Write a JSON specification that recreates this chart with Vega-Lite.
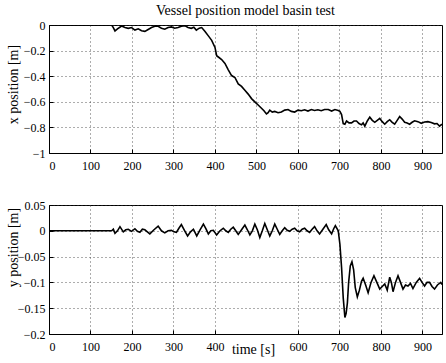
{
  "$schema": "https://vega.github.io/schema/vega-lite/v6.json",
  "padding": {"left": 5, "top": 3, "right": 0, "bottom": 0},
  "background": "white",
  "config": {
    "font": "Liberation Serif",
    "view": {"stroke": "black", "strokeWidth": 1},
    "axis": {
      "labelFont": "Liberation Serif", "labelFontSize": 12, "labelColor": "black", "format": "~r",
      "titleFont": "Liberation Serif", "titleFontSize": 14, "titleFontWeight": "normal", "titleColor": "black",
      "domainColor": "black", "tickColor": "black", "tickSize": -4, "labelPadding": 11,
      "gridColor": "#333", "gridDash": [1, 3], "gridWidth": 1, "gridOpacity": 0.8
    },
    "title": {"font": "Liberation Serif", "fontSize": 14, "fontWeight": "normal", "color": "black"}
  },
  "vconcat": [
    {
      "width": 393, "height": 128,
      "title": {"text": "Vessel position model basin test", "offset": 1},
      "data": {"values": [
        {"t": 0, "v": 0}, {"t": 151, "v": 0}, {"t": 155, "v": -0.02}, {"t": 159, "v": -0.046}, {"t": 165, "v": -0.03},
        {"t": 175, "v": -0.008}, {"t": 183, "v": -0.02}, {"t": 191, "v": -0.026}, {"t": 199, "v": -0.02}, {"t": 207, "v": -0.04},
        {"t": 215, "v": -0.03}, {"t": 223, "v": -0.045}, {"t": 231, "v": -0.05}, {"t": 239, "v": -0.035}, {"t": 247, "v": -0.02},
        {"t": 255, "v": -0.01}, {"t": 263, "v": -0.01}, {"t": 271, "v": -0.025}, {"t": 279, "v": -0.033}, {"t": 287, "v": -0.02},
        {"t": 295, "v": -0.015}, {"t": 303, "v": -0.025}, {"t": 311, "v": -0.02}, {"t": 319, "v": -0.01}, {"t": 327, "v": -0.005},
        {"t": 335, "v": -0.02}, {"t": 343, "v": -0.026}, {"t": 349, "v": -0.018}, {"t": 355, "v": -0.04}, {"t": 362, "v": -0.025},
        {"t": 368, "v": -0.02}, {"t": 376, "v": -0.05}, {"t": 384, "v": -0.085}, {"t": 392, "v": -0.12}, {"t": 400, "v": -0.175},
        {"t": 404, "v": -0.24}, {"t": 408, "v": -0.25}, {"t": 416, "v": -0.27}, {"t": 424, "v": -0.3}, {"t": 432, "v": -0.35},
        {"t": 440, "v": -0.395}, {"t": 448, "v": -0.41}, {"t": 456, "v": -0.46}, {"t": 464, "v": -0.48}, {"t": 472, "v": -0.51},
        {"t": 480, "v": -0.54}, {"t": 488, "v": -0.575}, {"t": 496, "v": -0.6}, {"t": 504, "v": -0.625}, {"t": 512, "v": -0.65},
        {"t": 518, "v": -0.67}, {"t": 524, "v": -0.695}, {"t": 528, "v": -0.685}, {"t": 532, "v": -0.665}, {"t": 538, "v": -0.68},
        {"t": 544, "v": -0.675}, {"t": 552, "v": -0.685}, {"t": 560, "v": -0.68}, {"t": 568, "v": -0.665}, {"t": 576, "v": -0.66},
        {"t": 584, "v": -0.675}, {"t": 592, "v": -0.68}, {"t": 600, "v": -0.665}, {"t": 608, "v": -0.67}, {"t": 616, "v": -0.662},
        {"t": 624, "v": -0.672}, {"t": 632, "v": -0.66}, {"t": 640, "v": -0.668}, {"t": 648, "v": -0.662}, {"t": 656, "v": -0.67},
        {"t": 664, "v": -0.66}, {"t": 673, "v": -0.66}, {"t": 681, "v": -0.672}, {"t": 689, "v": -0.66}, {"t": 697, "v": -0.668},
        {"t": 701, "v": -0.675}, {"t": 705, "v": -0.7}, {"t": 709, "v": -0.77}, {"t": 713, "v": -0.775}, {"t": 717, "v": -0.75},
        {"t": 723, "v": -0.765}, {"t": 729, "v": -0.765}, {"t": 735, "v": -0.75}, {"t": 741, "v": -0.75}, {"t": 747, "v": -0.77},
        {"t": 753, "v": -0.78}, {"t": 757, "v": -0.765}, {"t": 761, "v": -0.79}, {"t": 767, "v": -0.75}, {"t": 773, "v": -0.72},
        {"t": 779, "v": -0.745}, {"t": 785, "v": -0.76}, {"t": 791, "v": -0.745}, {"t": 797, "v": -0.73}, {"t": 803, "v": -0.755},
        {"t": 809, "v": -0.775}, {"t": 815, "v": -0.755}, {"t": 821, "v": -0.74}, {"t": 827, "v": -0.76}, {"t": 833, "v": -0.775},
        {"t": 839, "v": -0.745}, {"t": 845, "v": -0.715}, {"t": 851, "v": -0.735}, {"t": 857, "v": -0.76}, {"t": 863, "v": -0.765},
        {"t": 869, "v": -0.775}, {"t": 875, "v": -0.76}, {"t": 881, "v": -0.748}, {"t": 889, "v": -0.755}, {"t": 897, "v": -0.768},
        {"t": 905, "v": -0.758}, {"t": 913, "v": -0.755}, {"t": 921, "v": -0.762}, {"t": 929, "v": -0.772}, {"t": 935, "v": -0.77},
        {"t": 941, "v": -0.79}, {"t": 947, "v": -0.775}
      ]},
      "mark": {"type": "line", "color": "black", "strokeWidth": 1.6, "clip": true, "interpolate": "linear"},
      "encoding": {
        "x": {"field": "t", "type": "quantitative", "scale": {"domain": [0, 947], "nice": false, "zero": false},
              "axis": {"title": null, "values": [0, 100, 200, 300, 400, 500, 600, 700, 800, 900]}},
        "y": {"field": "v", "type": "quantitative", "scale": {"domain": [-1, 0], "nice": false},
              "axis": {"title": "x position [m]", "values": [-1, -0.8, -0.6, -0.4, -0.2, 0], "labelPadding": 8,
                       "titleX": -32, "titleY": 59, "titleBaseline": "alphabetic", "titleAngle": -90}}
      }
    },
    {
      "width": 393, "height": 129,
      "data": {"values": [
        {"t": 0, "v": 0}, {"t": 151, "v": 0.0}, {"t": 155, "v": 0.003}, {"t": 159, "v": -0.005}, {"t": 165, "v": 0.0},
        {"t": 171, "v": 0.008}, {"t": 179, "v": -0.002}, {"t": 185, "v": 0.002}, {"t": 191, "v": 0.003}, {"t": 199, "v": -0.001},
        {"t": 207, "v": 0.004}, {"t": 213, "v": -0.001}, {"t": 219, "v": -0.003}, {"t": 225, "v": 0.003}, {"t": 231, "v": 0.002},
        {"t": 237, "v": -0.002}, {"t": 243, "v": -0.006}, {"t": 253, "v": 0.002}, {"t": 263, "v": 0.009}, {"t": 271, "v": 0.0},
        {"t": 279, "v": -0.004}, {"t": 287, "v": 0.0}, {"t": 295, "v": 0.001}, {"t": 301, "v": -0.002}, {"t": 307, "v": -0.003},
        {"t": 313, "v": 0.005}, {"t": 319, "v": 0.012}, {"t": 327, "v": 0.0}, {"t": 334, "v": -0.01}, {"t": 341, "v": -0.002},
        {"t": 348, "v": 0.003}, {"t": 356, "v": -0.01}, {"t": 364, "v": 0.002}, {"t": 372, "v": 0.013}, {"t": 378, "v": 0.004},
        {"t": 384, "v": -0.006}, {"t": 390, "v": 0.0}, {"t": 396, "v": 0.001}, {"t": 404, "v": -0.008}, {"t": 412, "v": 0.0},
        {"t": 420, "v": 0.005}, {"t": 426, "v": 0.0}, {"t": 432, "v": -0.003}, {"t": 438, "v": 0.003}, {"t": 444, "v": 0.007},
        {"t": 450, "v": 0.0}, {"t": 456, "v": -0.007}, {"t": 464, "v": 0.002}, {"t": 472, "v": 0.011}, {"t": 478, "v": 0.002},
        {"t": 484, "v": -0.008}, {"t": 490, "v": 0.0}, {"t": 496, "v": 0.013}, {"t": 502, "v": 0.002}, {"t": 508, "v": -0.013},
        {"t": 514, "v": 0.0}, {"t": 520, "v": 0.014}, {"t": 526, "v": 0.002}, {"t": 532, "v": -0.01}, {"t": 538, "v": 0.0},
        {"t": 544, "v": 0.013}, {"t": 550, "v": 0.003}, {"t": 556, "v": -0.007}, {"t": 562, "v": 0.0}, {"t": 568, "v": 0.006},
        {"t": 574, "v": 0.001}, {"t": 580, "v": -0.001}, {"t": 586, "v": 0.003}, {"t": 592, "v": 0.005}, {"t": 598, "v": 0.0},
        {"t": 604, "v": -0.002}, {"t": 610, "v": 0.003}, {"t": 616, "v": 0.005}, {"t": 622, "v": 0.0}, {"t": 628, "v": -0.003},
        {"t": 634, "v": 0.003}, {"t": 640, "v": 0.008}, {"t": 646, "v": 0.0}, {"t": 652, "v": -0.006}, {"t": 660, "v": 0.003},
        {"t": 668, "v": 0.012}, {"t": 674, "v": 0.002}, {"t": 681, "v": -0.006}, {"t": 686, "v": 0.004}, {"t": 690, "v": 0.010},
        {"t": 697, "v": 0.0}, {"t": 701, "v": -0.026}, {"t": 705, "v": -0.071}, {"t": 709, "v": -0.13}, {"t": 713, "v": -0.168},
        {"t": 716, "v": -0.16}, {"t": 719, "v": -0.14}, {"t": 722, "v": -0.1}, {"t": 726, "v": -0.068}, {"t": 730, "v": -0.06},
        {"t": 734, "v": -0.075}, {"t": 738, "v": -0.11}, {"t": 743, "v": -0.128}, {"t": 748, "v": -0.115}, {"t": 753, "v": -0.098},
        {"t": 757, "v": -0.092}, {"t": 763, "v": -0.105}, {"t": 769, "v": -0.12}, {"t": 776, "v": -0.1}, {"t": 783, "v": -0.087},
        {"t": 790, "v": -0.1}, {"t": 797, "v": -0.113}, {"t": 803, "v": -0.108}, {"t": 809, "v": -0.103}, {"t": 815, "v": -0.115},
        {"t": 821, "v": -0.09}, {"t": 825, "v": -0.1}, {"t": 829, "v": -0.118}, {"t": 835, "v": -0.1}, {"t": 841, "v": -0.087},
        {"t": 847, "v": -0.1}, {"t": 853, "v": -0.113}, {"t": 859, "v": -0.105}, {"t": 865, "v": -0.107}, {"t": 871, "v": -0.102},
        {"t": 877, "v": -0.112}, {"t": 885, "v": -0.1}, {"t": 893, "v": -0.092}, {"t": 899, "v": -0.1}, {"t": 905, "v": -0.107},
        {"t": 911, "v": -0.1}, {"t": 917, "v": -0.1}, {"t": 923, "v": -0.108}, {"t": 929, "v": -0.113}, {"t": 936, "v": -0.105},
        {"t": 944, "v": -0.1}, {"t": 947, "v": -0.104}
      ]},
      "mark": {"type": "line", "color": "black", "strokeWidth": 1.6, "clip": true, "interpolate": "linear"},
      "encoding": {
        "x": {"field": "t", "type": "quantitative", "scale": {"domain": [0, 947], "nice": false, "zero": false},
              "axis": {"title": "time [s]", "values": [0, 100, 200, 300, 400, 600, 700, 800, 900],
                       "titleX": 204, "titleY": 8, "titleBaseline": "top"}},
        "y": {"field": "v", "type": "quantitative", "scale": {"domain": [-0.2, 0.05], "nice": false},
              "axis": {"title": "y position [m]", "values": [-0.2, -0.15, -0.1, -0.05, 0, 0.05], "labelPadding": 8,
                       "titleX": -32, "titleY": 42, "titleBaseline": "alphabetic", "titleAngle": -90}}
      }
    }
  ],
  "spacing": 26
}
